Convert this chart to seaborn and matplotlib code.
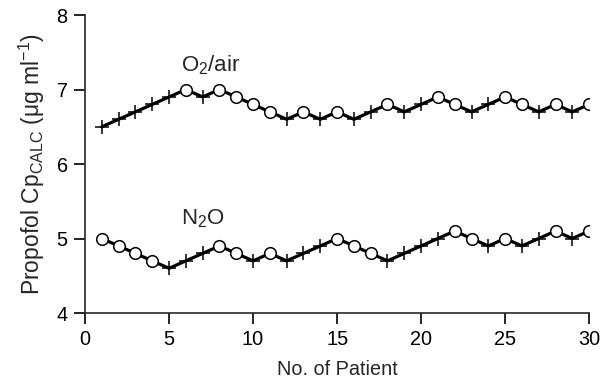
import matplotlib
matplotlib.use("Agg")
import matplotlib.pyplot as plt
import seaborn as sns
import pandas as pd

patients = list(range(1, 31))
o2_air = [6.5, 6.6, 6.7, 6.8, 6.9, 7.0, 6.9, 7.0, 6.9, 6.8,
          6.7, 6.6, 6.7, 6.6, 6.7, 6.6, 6.7, 6.8, 6.7, 6.8,
          6.9, 6.8, 6.7, 6.8, 6.9, 6.8, 6.7, 6.8, 6.7, 6.8]
o2_air_resp = ['+', '+', '+', '+', '+', 'o', '+', 'o', 'o', 'o',
               'o', '+', 'o', '+', 'o', '+', '+', 'o', '+', '+',
               'o', 'o', '+', '+', 'o', 'o', '+', 'o', '+', 'o']
n2o = [5.0, 4.9, 4.8, 4.7, 4.6, 4.7, 4.8, 4.9, 4.8, 4.7,
       4.8, 4.7, 4.8, 4.9, 5.0, 4.9, 4.8, 4.7, 4.8, 4.9,
       5.0, 5.1, 5.0, 4.9, 5.0, 4.9, 5.0, 5.1, 5.0, 5.1]
n2o_resp = ['o', 'o', 'o', 'o', '+', '+', '+', 'o', 'o', '+',
            'o', '+', '+', '+', 'o', 'o', 'o', '+', '+', '+',
            '+', 'o', 'o', '+', 'o', '+', '+', 'o', '+', 'o']

sns.set_style("ticks")
plt.rcParams['font.family'] = ['Liberation Sans', 'DejaVu Sans']
plt.rcParams['mathtext.fontset'] = 'custom'
plt.rcParams['mathtext.rm'] = 'Liberation Sans'
plt.rcParams['mathtext.it'] = 'Liberation Sans'

fig = plt.figure(figsize=(6.03, 3.85), dpi=100)
ax = fig.add_axes([0.141, 0.187, 0.836, 0.774])

for vals, resp in [(o2_air, o2_air_resp), (n2o, n2o_resp)]:
    df = pd.DataFrame({'patient': patients, 'conc': vals, 'resp': resp})
    sns.lineplot(data=df, x='patient', y='conc', color='black', lw=2.3, ax=ax, zorder=2)
    plus = df[df['resp'] == '+']
    circ = df[df['resp'] == 'o']
    sns.scatterplot(data=plus, x='patient', y='conc', marker='+', s=95,
                    color='black', linewidth=1.1, ax=ax, zorder=3)
    sns.scatterplot(data=circ, x='patient', y='conc', marker='o', s=70,
                    facecolor='white', edgecolor='black', linewidth=1.1, ax=ax, zorder=3)

ax.text(7.5, 7.33, 'O$_2$/air', fontsize=16, ha='center', va='center')
ax.text(7.0, 5.27, 'N$_2$O', fontsize=16, ha='center', va='center')

ax.set_xlim(0, 30)
ax.set_ylim(4, 8)
ax.set_xticks([0, 5, 10, 15, 20, 25, 30])
ax.set_yticks([4, 5, 6, 7, 8])
sns.despine(ax=ax)
ax.spines['left'].set_linewidth(1.2)
ax.spines['bottom'].set_linewidth(1.2)
ax.tick_params(direction='out', length=8, width=1.2, pad=4.5, labelsize=14.3, colors='black')
ax.set_xlabel('No. of Patient', fontsize=14.3, labelpad=8)
ax.set_ylabel(r'Propofol Cp$_{\mathrm{CALC}}$ ($\mathrm{\mu}$g ml$^{-1}$)', fontsize=16.5, labelpad=7)

fig.savefig('out.png', dpi=100)
